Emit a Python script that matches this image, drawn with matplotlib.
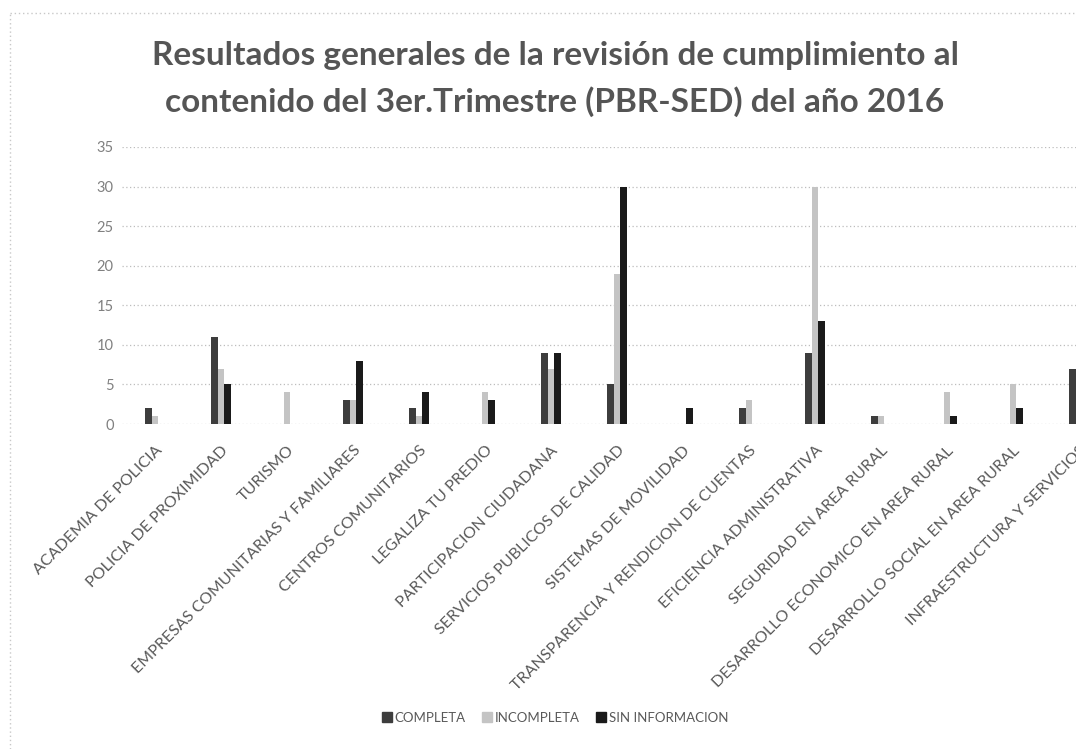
import matplotlib
matplotlib.use("Agg")
import matplotlib.pyplot as plt
import numpy as np
from matplotlib.patches import Rectangle
from matplotlib.lines import Line2D

categories = [
    "ACADEMIA DE POLICIA",
    "POLICIA DE PROXIMIDAD",
    "TURISMO",
    "EMPRESAS COMUNITARIAS Y FAMILIARES",
    "CENTROS COMUNITARIOS",
    "LEGALIZA TU PREDIO",
    "PARTICIPACION CIUDADANA",
    "SERVICIOS PUBLICOS DE CALIDAD",
    "SISTEMAS DE MOVILIDAD",
    "TRANSPARENCIA Y RENDICION DE CUENTAS",
    "EFICIENCIA ADMINISTRATIVA",
    "SEGURIDAD EN AREA RURAL",
    "DESARROLLO ECONOMICO EN AREA RURAL",
    "DESARROLLO SOCIAL EN AREA RURAL",
    "INFRAESTRUCTURA Y SERVICIOS",
]
completa = [2, 11, 0, 3, 2, 0, 9, 5, 0, 2, 9, 1, 0, 0, 7]
incompleta = [1, 7, 4, 3, 1, 4, 7, 19, 0, 3, 30, 1, 4, 5, 0]
sin_info = [0, 5, 0, 8, 4, 3, 9, 30, 2, 0, 13, 0, 1, 2, 0]

series_names = ["COMPLETA", "INCOMPLETA", "SIN INFORMACION"]
colors = ["#3d3d3d", "#c4c4c4", "#1a1a1a"]
yticks = [0, 5, 10, 15, 20, 25, 30, 35]

W, H = 1076, 749
fig = plt.figure(figsize=(W / 100, H / 100), dpi=100)
plt.rcParams["font.family"] = ["Lato", "DejaVu Sans"]

# plot area runs past the right edge, like the cropped original
ax = fig.add_axes([122 / W, (H - 424) / H, 990 / W, 277 / H])

x = np.arange(len(categories))
w = 0.105
for j, vals in enumerate([completa, incompleta, sin_info]):
    ax.bar(x + (j - 1) * w, vals, width=w, color=colors[j], zorder=3)

ax.set_xlim(-0.5, len(categories) - 0.5)
ax.set_ylim(0, 35)
ax.set_yticks(yticks)
ax.set_yticklabels([str(v) for v in yticks], fontsize=10.5, color="#808080")
ax.yaxis.grid(True, linestyle=(0, (1, 2)), color="#bdbdbd", linewidth=0.9, zorder=0)
ax.set_axisbelow(True)
for s in ax.spines.values():
    s.set_visible(False)
ax.tick_params(axis="both", length=0)
ax.tick_params(axis="y", pad=6)
ax.tick_params(axis="x", pad=14)
ax.set_xticks(x)
ax.set_xticklabels(categories, rotation=45, ha="right", va="top",
                   rotation_mode="anchor", fontsize=11.5, color="#595959")

fig.text(555 / W, 1 - 65 / H, "Resultados generales de la revisión de cumplimiento al",
         ha="center", va="baseline", fontsize=24, fontweight="bold", color="#555555")
fig.text(555 / W, 1 - 112 / H, "contenido del 3er.Trimestre (PBR-SED) del año 2016",
         ha="center", va="baseline", fontsize=24, fontweight="bold", color="#555555")

handles = [Rectangle((0, 0), 1, 1, color=c) for c in colors]
fig.legend(handles, series_names, loc="center", bbox_to_anchor=(555 / W, 1 - 718 / H),
           ncol=3, frameon=False, fontsize=9.5, handlelength=0.8, handleheight=0.8,
           handletextpad=0.2, columnspacing=1.2, labelcolor="#595959")

# dotted chart border (left and top visible)
fig.add_artist(Line2D([10 / W, 10 / W], [0, 1 - 13 / H], transform=fig.transFigure,
                      color="#c8c8c8", linestyle=(0, (1, 2)), linewidth=1))
fig.add_artist(Line2D([10 / W, 1], [1 - 13 / H, 1 - 13 / H], transform=fig.transFigure,
                      color="#c8c8c8", linestyle=(0, (1, 2)), linewidth=1))

fig.savefig("out.png", dpi=100)
